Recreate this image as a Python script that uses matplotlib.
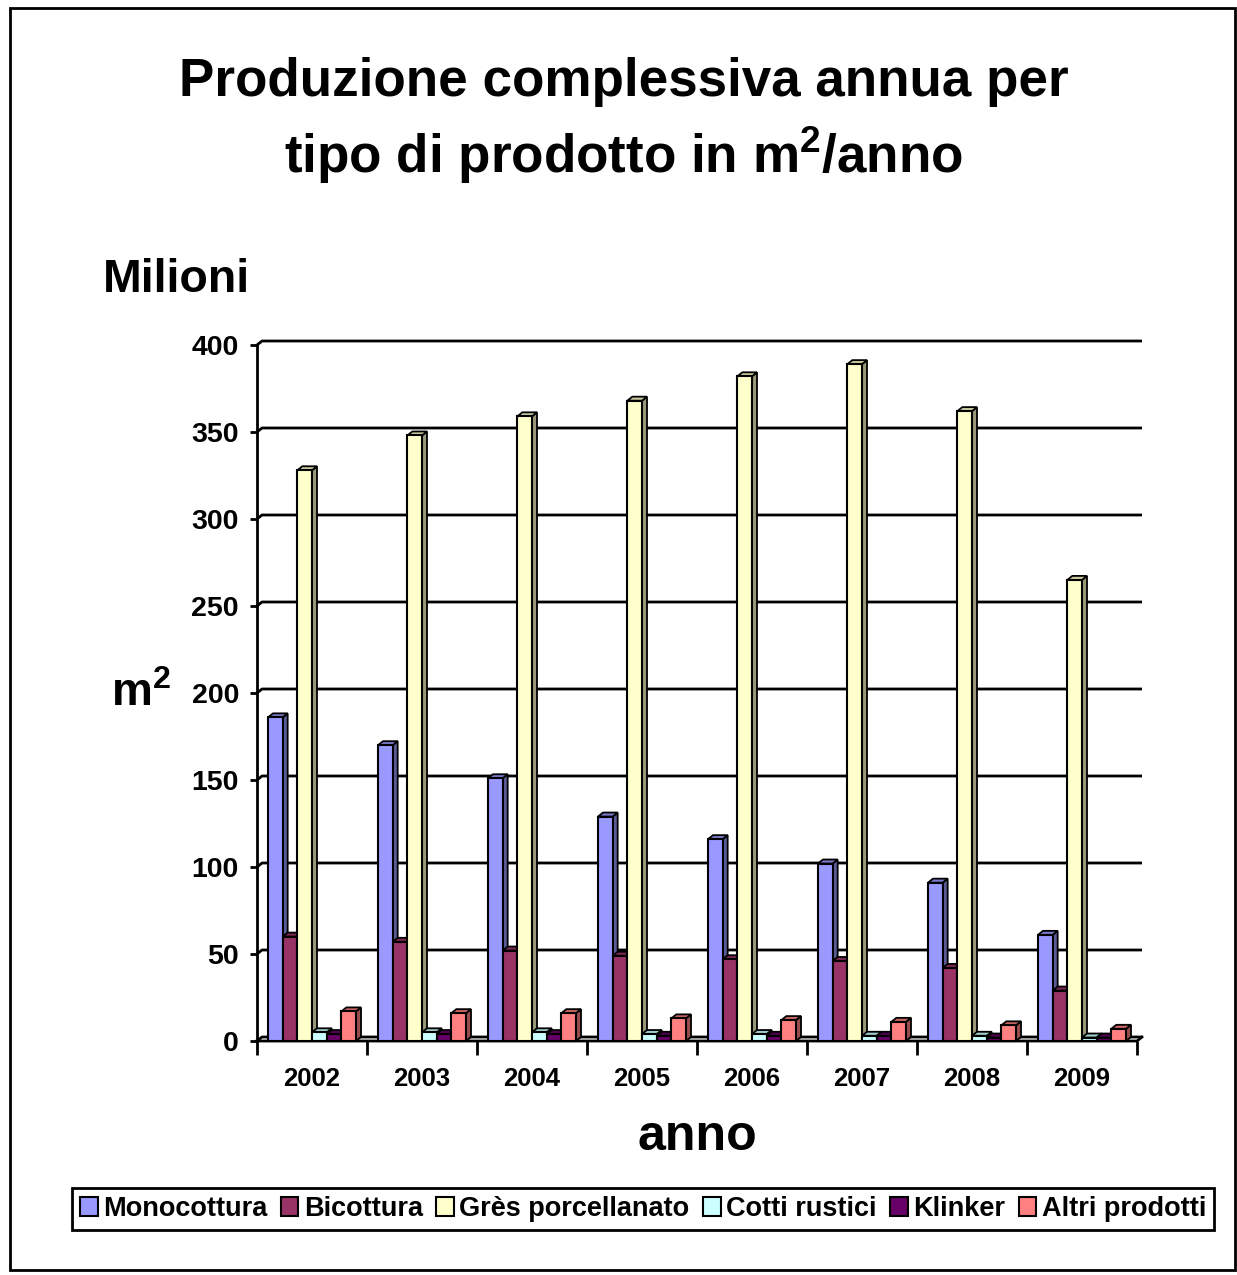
import numpy as np
import matplotlib
matplotlib.use("Agg")
import matplotlib.pyplot as plt
from matplotlib.patches import Polygon, Rectangle
from matplotlib.colors import to_rgb

plt.rcParams['font.family'] = ['Liberation Sans', 'DejaVu Sans']
plt.rcParams['font.weight'] = 'bold'
plt.rcParams['mathtext.fontset'] = 'custom'
plt.rcParams['mathtext.rm'] = 'Liberation Sans:bold'
plt.rcParams['mathtext.bf'] = 'Liberation Sans:bold'

# --- Data (milioni di m2) ---------------------------------------------------
anni = ["2002", "2003", "2004", "2005", "2006", "2007", "2008", "2009"]
monocottura = [186, 170, 151, 129, 116, 102, 91, 61]
bicottura   = [60, 57, 52, 49, 47, 46, 42, 29]
gres        = [328, 348, 359, 368, 382, 389, 362, 265]
cotti       = [5, 5, 5, 4, 4, 3, 3, 2]
klinker     = [4, 4, 4, 3, 3, 3, 2, 2]
altri       = [17, 16, 16, 13, 12, 11, 9, 7]

serie = ["Monocottura", "Bicottura", "Grès porcellanato",
         "Cotti rustici", "Klinker", "Altri prodotti"]
valori = [monocottura, bicottura, gres, cotti, klinker, altri]
colori = ["#9999FF", "#993366", "#FFFFCC", "#CCFFFF", "#660066", "#FF8080"]

W, H = 1237, 1275
fig = plt.figure(figsize=(W / 100, H / 100), dpi=100)

# axes placement in pixels
ax_left, ax_right, ax_top, ax_bot = 257, 1142, 341, 1041
ax = fig.add_axes([ax_left / W, 1 - ax_bot / H,
                   (ax_right - ax_left) / W, (ax_bot - ax_top) / H])

n = len(anni)
px_x = 110.0            # pixels per category
px_y = 1.74             # pixels per million
DX = 5 / px_x           # depth offset (x)
DY = 4 / px_y           # depth offset (y)
ax.set_xlim(0, n + DX)
ax.set_ylim(0, 400 + DY)
for s in ax.spines.values():
    s.set_visible(False)

# back wall gridlines with the little corner diagonal
for v in range(0, 401, 50):
    ax.plot([0, DX, n + DX], [v, v + DY, v + DY], color="black", lw=2,
            clip_on=False, zorder=1, solid_capstyle="butt")
# left axis and front floor edge
ax.plot([0, 0], [0, 400], color="black", lw=2, clip_on=False, zorder=1)
ax.plot([0, n, n + DX], [0, 0, DY], color="black", lw=2, clip_on=False, zorder=1)

def shade(c, f):
    r, g, b = to_rgb(c)
    return (r * f, g * f, b * f)

# pseudo-3D bars
bw = 88 / 6 / px_x
start = (px_x - 88) / 2 / px_x
z = 2
for i in range(n):
    for k, (vals, col) in enumerate(zip(valori, colori)):
        x0 = i + start + k * bw
        v = vals[i]
        side = Polygon([(x0 + bw, 0), (x0 + bw + DX, DY), (x0 + bw + DX, v + DY), (x0 + bw, v)],
                       closed=True, facecolor=shade(col, 0.6), edgecolor="black", lw=1.3,
                       zorder=z, clip_on=False)
        top = Polygon([(x0, v), (x0 + DX, v + DY), (x0 + bw + DX, v + DY), (x0 + bw, v)],
                      closed=True, facecolor=shade(col, 0.8), edgecolor="black", lw=1.3,
                      zorder=z, clip_on=False)
        front = Rectangle((x0, 0), bw, v, facecolor=col, edgecolor="black", lw=1.5,
                          zorder=z + 0.5, clip_on=False)
        ax.add_patch(side)
        ax.add_patch(top)
        ax.add_patch(front)
        z += 1

# ticks
ax.set_yticks(range(0, 401, 50))
ax.tick_params(axis="y", length=5, width=2, pad=8, labelsize=20.5)
ax.set_xticks(range(0, n + 1))
ax.set_xticklabels([])
ax.set_xticks(np.arange(n) + 0.5, minor=True)
ax.set_xticklabels(anni, minor=True)
ax.tick_params(axis="x", which="major", length=10, width=2)
ax.tick_params(axis="x", which="minor", length=0, pad=19, labelsize=18.5)
for lab in ax.get_yticklabels() + ax.get_xticklabels(minor=True):
    lab.set_fontweight("bold")

def ftext(x, y, s, **kw):
    fig.text(x / W, 1 - y / H, s, ha="center", va="center", fontweight="bold", **kw)

ftext(624, 82, "Produzione complessiva annua per", fontsize=38.2)
ftext(624, 155, "tipo di prodotto in m$^\\mathbf{2}$/anno", fontsize=38.2)
ftext(176, 280, "Milioni", fontsize=33.5)
ftext(141, 694, "m$^\\mathbf{2}$", fontsize=33)
ftext(697, 1137, "anno", fontsize=36)

# legend
handles = [Rectangle((0, 0), 1, 1, facecolor=c, edgecolor="black", lw=1.5) for c in colori]
leg = fig.legend(handles, serie, loc="center", bbox_to_anchor=(643 / W, 1 - 1209 / H),
                 ncol=6, prop={"weight": "bold", "size": 19.5},
                 handlelength=0.65, handleheight=0.65, handletextpad=0.2,
                 columnspacing=0.5, borderpad=0.3, borderaxespad=0,
                 fancybox=False, framealpha=1)
leg.get_frame().set_edgecolor("black")
leg.get_frame().set_linewidth(2)

# outer border
fig.patches.append(Rectangle((10 / W, 1 - 1270 / H), 1225 / W, 1262 / H,
                             transform=fig.transFigure, fill=False,
                             edgecolor="black", lw=2))

fig.savefig("out.png", dpi=100)
